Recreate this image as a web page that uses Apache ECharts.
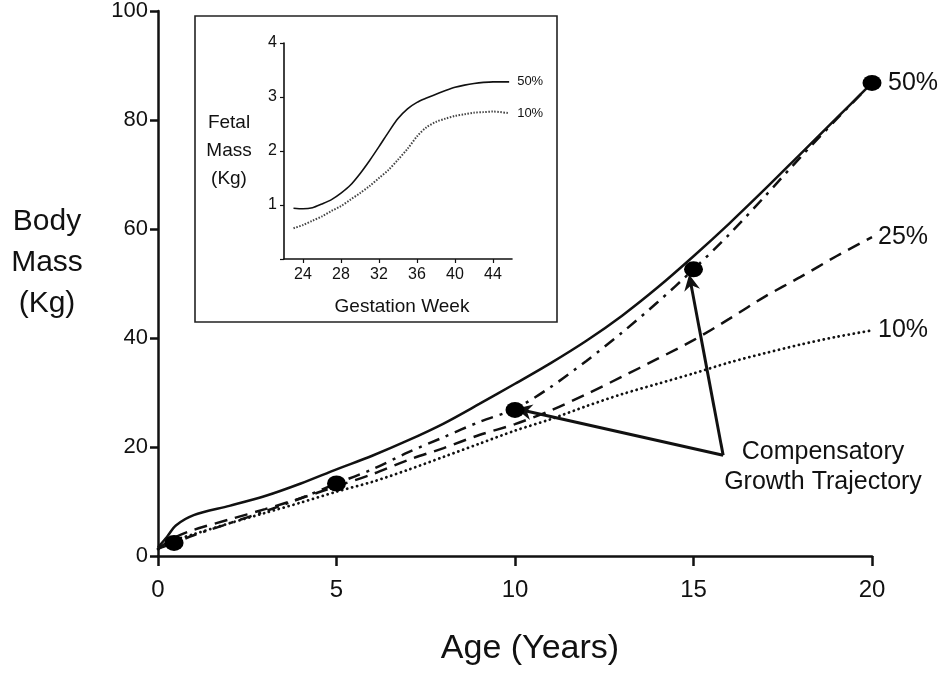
<!DOCTYPE html>
<html>
<head>
<meta charset="utf-8">
<script src="https://cdn.jsdelivr.net/npm/echarts@6/dist/echarts.min.js"></script>
<style>
  html, body { margin: 0; padding: 0; background: #fff; }
  #chart { width: 950px; height: 680px; }
</style>
</head>
<body>
<div id="chart"></div>
<script>
// main chart: body mass by age (years)
var ageYears = [0, 0.25, 0.5, 1, 2, 3, 4, 5, 6, 7, 8, 9, 10, 11, 12, 13, 14, 15, 16, 17, 18, 19, 20];
var mass50 = [1.6, 3.5, 5.6, 7.5, 9.2, 11.0, 13.3, 15.9, 18.4, 21.2, 24.3, 27.9, 31.6, 35.4, 39.5, 44.1, 49.3, 55.0, 61.0, 67.3, 73.8, 80.3, 86.8];
var mass25 = [1.2, 2.5, 3.5, 4.8, 6.7, 8.6, 10.6, 12.8, 15.0, 17.6, 19.8, 22.2, 24.2, 26.7, 29.7, 32.9, 36.2, 39.6, 43.5, 47.6, 51.2, 55.0, 58.5];
var mass10 = [1.3, 2.3, 3.0, 4.0, 6.0, 7.9, 9.8, 11.8, 13.6, 15.8, 18.2, 20.6, 23.0, 25.1, 27.5, 29.7, 31.6, 33.5, 35.5, 37.2, 38.8, 40.2, 41.4];
var massCatchUp = [1.4, 1.9, 2.5, 3.8, 6.0, 8.2, 10.6, 13.3, 15.9, 19.0, 21.8, 24.6, 27.0, 31.0, 35.8, 41.0, 46.6, 52.6, 59.0, 66.0, 73.2, 80.1, 86.8];
var dotAges = [0.45, 5, 10, 15, 20];
var dotMass = [2.4, 13.3, 26.8, 52.6, 86.8];
var xTicks = [0, 5, 10, 15, 20];
var yTicks = [0, 20, 40, 60, 80, 100];
// arrows from the note to the dots at 10 and 15 years
var arrowFrom = [15.83, 18.5];
var arrowTo = [[10.25, 26.7], [14.92, 50.2]];

// inset: fetal mass by gestation week
var gestWeek = [23, 24, 25, 26, 27, 28, 29, 30, 31, 32, 33, 34, 35, 36, 37, 38, 39, 40, 41, 42, 43, 44, 45.7];
var fetal50 = [0.94, 0.93, 0.95, 1.02, 1.1, 1.22, 1.37, 1.58, 1.82, 2.08, 2.35, 2.6, 2.78, 2.9, 2.98, 3.05, 3.12, 3.18, 3.22, 3.25, 3.27, 3.28, 3.28];
var fetal10 = [0.57, 0.63, 0.71, 0.79, 0.89, 0.98, 1.1, 1.22, 1.35, 1.5, 1.65, 1.84, 2.04, 2.27, 2.44, 2.54, 2.6, 2.65, 2.68, 2.71, 2.72, 2.73, 2.7];
var weekTicks = [24, 28, 32, 36, 40, 44];

var FONT = 'Liberation Sans, Arial, sans-serif';
var INK = '#111';

function pairs(xs, ys) {
    var out = [];
    for (var i = 0; i < xs.length; i++) {
        out.push([xs[i], ys[i]]);
    }
    return out;
}

var myChart = echarts.init(document.getElementById('chart'));

var arrowData = [];
for (var i = 0; i < arrowTo.length; i++) {
    arrowData.push([{coord: arrowFrom}, {coord: arrowTo[i]}]);
}

var option = {
    backgroundColor: '#fff',
    animation: false,
    textStyle: {fontFamily: FONT, color: INK},
    grid: [
        {left: 158, right: 78, top: 9, bottom: 124},
        {left: 284, top: 43, width: 228, height: 216}
    ],
    graphic: [
        {
            type: 'rect',
            z: -10,
            shape: {x: 195, y: 16, width: 362, height: 306},
            style: {fill: '#fff', stroke: '#222', lineWidth: 1.6}
        },
        {
            type: 'text',
            x: 823,
            y: 467,
            style: {
                text: 'Compensatory\nGrowth Trajectory',
                fontSize: 25,
                fontFamily: FONT,
                align: 'center',
                verticalAlign: 'middle',
                lineHeight: 30,
                fill: INK
            }
        }
    ],
    xAxis: [
        {
            type: 'value',
            gridIndex: 0,
            min: 0,
            max: 20,
            interval: 5,
            name: 'Age (Years)',
            nameLocation: 'middle',
            nameGap: 76,
            nameTextStyle: {fontSize: 34, color: INK, padding: [0, 0, 0, 30]},
            axisLine: {onZero: false, lineStyle: {color: INK, width: 2.5}},
            axisTick: {length: 10, lineStyle: {color: INK, width: 2.5}},
            axisLabel: {fontSize: 24, color: INK, margin: 22, customValues: xTicks},
            splitLine: {show: false}
        },
        {
            type: 'value',
            gridIndex: 1,
            min: 22,
            max: 46,
            name: 'Gestation Week',
            nameLocation: 'middle',
            nameGap: 38,
            nameTextStyle: {fontSize: 19, color: INK, padding: [0, 0, 0, 8]},
            axisLine: {onZero: false, lineStyle: {color: INK, width: 1.6}},
            axisTick: {length: 4, customValues: weekTicks, lineStyle: {color: INK, width: 1.2}},
            axisLabel: {fontSize: 16, color: INK, margin: 8, customValues: weekTicks},
            splitLine: {show: false}
        }
    ],
    yAxis: [
        {
            type: 'value',
            gridIndex: 0,
            min: 0,
            max: 100,
            interval: 20,
            // trailing empty line lifts the block to sit where the original does
            name: 'Body\nMass\n(Kg)\n',
            nameLocation: 'middle',
            nameRotate: 0,
            nameGap: 111,
            nameTextStyle: {fontSize: 30, color: INK, align: 'center', verticalAlign: 'middle', lineHeight: 41},
            axisLine: {onZero: false, lineStyle: {color: INK, width: 2.5}},
            axisTick: {length: 8, lineStyle: {color: INK, width: 2.5}},
            axisLabel: {fontSize: 22, color: INK, margin: 10, customValues: yTicks},
            splitLine: {show: false}
        },
        {
            type: 'value',
            gridIndex: 1,
            min: 0,
            max: 4,
            interval: 1,
            name: 'Fetal\nMass\n(Kg)',
            nameLocation: 'middle',
            nameRotate: 0,
            nameGap: 55,
            nameTextStyle: {fontSize: 19, color: INK, align: 'center', verticalAlign: 'middle', lineHeight: 28},
            axisLine: {onZero: false, lineStyle: {color: INK, width: 1.6}},
            axisTick: {length: 4, lineStyle: {color: INK, width: 1.2}},
            axisLabel: {
                fontSize: 16, color: INK, margin: 7,
                formatter: function (v) { return v === 0 ? '' : v; }
            },
            splitLine: {show: false}
        }
    ],
    series: [
        {
            name: '10%',
            type: 'line',
            xAxisIndex: 0, yAxisIndex: 0,
            data: pairs(ageYears, mass10),
            smooth: 0.3,
            showSymbol: false,
            lineStyle: {color: INK, width: 2.8, type: [0.1, 5], cap: 'round'},
            endLabel: {show: true, formatter: '10%', fontSize: 25, color: INK, distance: 6}
        },
        {
            name: '25%',
            type: 'line',
            xAxisIndex: 0, yAxisIndex: 0,
            data: pairs(ageYears, mass25),
            smooth: 0.3,
            showSymbol: false,
            lineStyle: {color: INK, width: 2.5, type: [13, 8]},
            endLabel: {show: true, formatter: '25%', fontSize: 25, color: INK, distance: 6}
        },
        {
            name: 'Compensatory',
            type: 'line',
            xAxisIndex: 0, yAxisIndex: 0,
            data: pairs(ageYears, massCatchUp),
            smooth: 0.3,
            showSymbol: false,
            lineStyle: {color: INK, width: 2.5, type: [12, 7, 3, 7]},
            markLine: {
                silent: true,
                symbol: ['none', 'path://M0,0L7,16L0,11L-7,16Z'],
                symbolSize: 16,
                label: {show: false},
                lineStyle: {type: 'solid', color: INK, width: 3},
                data: arrowData
            }
        },
        {
            name: '50%',
            type: 'line',
            xAxisIndex: 0, yAxisIndex: 0,
            data: pairs(ageYears, mass50),
            smooth: 0.3,
            showSymbol: false,
            lineStyle: {color: INK, width: 2.5, type: 'solid'},
            endLabel: {show: true, formatter: '50%', fontSize: 25, color: INK, distance: 16}
        },
        {
            name: 'dots',
            type: 'scatter',
            xAxisIndex: 0, yAxisIndex: 0,
            data: pairs(dotAges, dotMass),
            symbol: 'circle',
            symbolSize: [19, 16],
            itemStyle: {color: '#000', opacity: 1},
            z: 5
        },
        {
            name: 'fetal 50%',
            type: 'line',
            xAxisIndex: 1, yAxisIndex: 1,
            data: pairs(gestWeek, fetal50),
            smooth: 0.3,
            showSymbol: false,
            lineStyle: {color: INK, width: 1.6},
            endLabel: {show: true, formatter: '50%', fontSize: 13, color: INK, distance: 8}
        },
        {
            name: 'fetal 10%',
            type: 'line',
            xAxisIndex: 1, yAxisIndex: 1,
            data: pairs(gestWeek, fetal10),
            smooth: 0.3,
            showSymbol: false,
            lineStyle: {color: '#444', width: 2, type: [1.5, 1.5]},
            endLabel: {show: true, formatter: '10%', fontSize: 13, color: INK, distance: 8}
        }
    ]
};

myChart.setOption(option);
</script>
</body>
</html>
